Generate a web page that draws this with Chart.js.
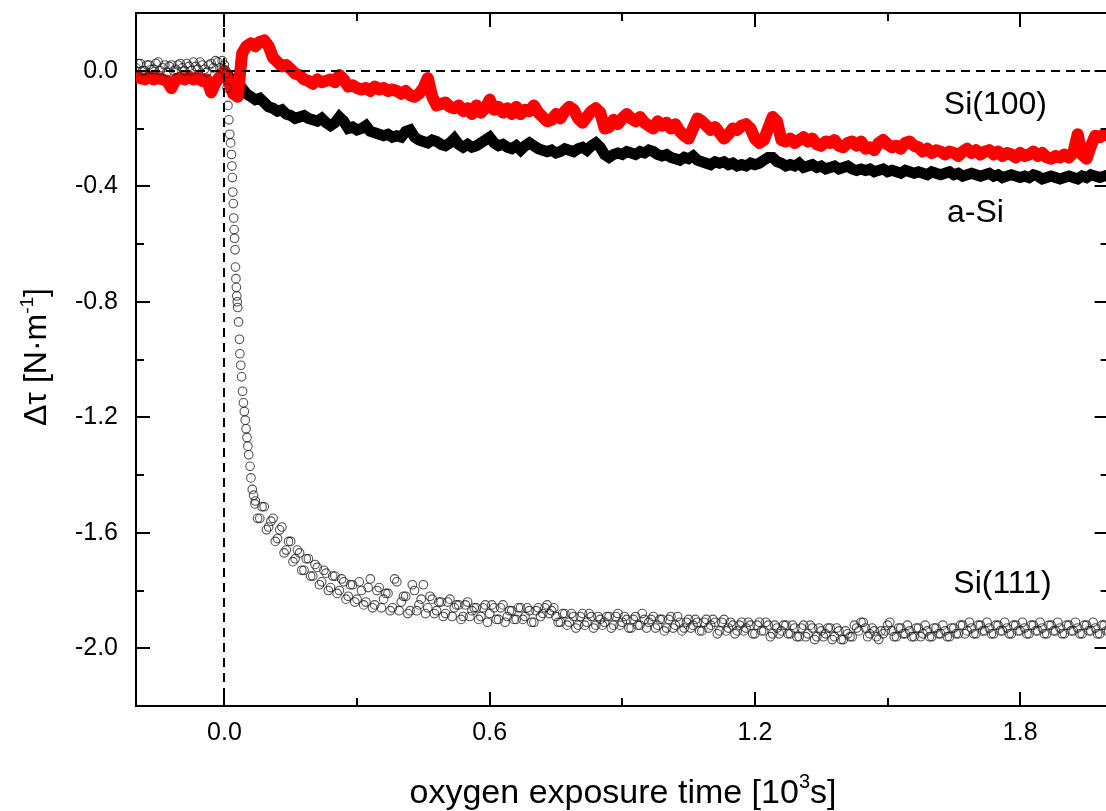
<!DOCTYPE html>
<html><head><meta charset="utf-8">
<script src="https://cdn.jsdelivr.net/npm/chart.js@4.4.0/dist/chart.umd.min.js"></script>
<style>
html,body{margin:0;padding:0;background:#fff;overflow:hidden;width:1106px;height:811px}
#wrap{position:absolute;left:0;top:0;width:1114px;height:811px}
</style>
</head><body><div id="wrap"><canvas id="c" width="1114" height="811"></canvas></div>
<script>
// ---------- DATA (time in 10^3 s, Δτ in N·m^-1) ----------
const lineTimeStart = -0.2, lineTimeStep = 0.01;   // sampling of the Si(100) and a-Si traces

const si100 = [
 -0.02,-0.025,-0.03,-0.02,-0.03,-0.025,-0.03,-0.035,-0.06,-0.03,
 -0.025,-0.03,-0.02,-0.03,-0.025,-0.035,-0.03,-0.075,-0.04,-0.02,
 0.0,-0.04,-0.08,-0.09,0.06,0.085,0.095,0.085,0.1,0.105,
 0.085,0.045,0.03,0.015,0.02,0.005,-0.01,-0.015,-0.03,-0.035,
 -0.045,-0.03,-0.04,-0.035,-0.03,-0.04,-0.015,-0.03,-0.055,-0.05,
 -0.06,-0.065,-0.06,-0.07,-0.055,-0.065,-0.06,-0.07,-0.065,-0.07,
 -0.08,-0.07,-0.085,-0.09,-0.08,-0.06,-0.025,-0.09,-0.12,-0.115,
 -0.11,-0.125,-0.13,-0.12,-0.14,
 -0.13,-0.15,-0.12,-0.145,-0.13,-0.10,-0.135,-0.125,-0.145,-0.13,
 -0.15,-0.125,-0.15,-0.135,-0.14,-0.12,-0.145,-0.16,-0.175,-0.17,
 -0.15,-0.165,-0.14,-0.125,-0.135,-0.165,-0.18,-0.16,-0.14,-0.13,
 -0.145,-0.2,-0.195,-0.17,-0.185,-0.165,-0.15,-0.165,-0.175,-0.16,
 -0.18,-0.19,-0.2,-0.175,-0.19,-0.18,-0.2,-0.185,-0.21,-0.225,
 -0.235,-0.2,-0.165,-0.175,-0.19,-0.205,-0.195,-0.215,-0.235,-0.22,
 -0.2,-0.205,-0.19,-0.185,-0.2,-0.235,-0.25,-0.24,-0.2,-0.16,
 -0.175,-0.24,-0.245,-0.235,-0.25,-0.24,-0.23,-0.245,-0.235,-0.255,
 -0.26,-0.245,-0.25,-0.24,-0.26,-0.265,-0.25,-0.245,-0.26,-0.245,
 -0.27,-0.265,-0.275,-0.25,-0.24,-0.255,-0.265,-0.26,-0.27,-0.25,
 -0.245,-0.26,-0.265,-0.28,-0.27,-0.285,-0.275,-0.28,-0.29,-0.28,
 -0.285,-0.295,-0.28,-0.27,-0.285,-0.275,-0.29,-0.28,-0.275,-0.29,
 -0.28,-0.295,-0.285,-0.29,-0.3,-0.285,-0.295,-0.29,-0.28,-0.295,
 -0.285,-0.3,-0.305,-0.295,-0.3,-0.29,-0.3,-0.285,-0.22,-0.29,
 -0.305,-0.26,-0.225,-0.23,-0.22,-0.225
];

const aSi = [
 null,null,null,null,null,null,null,null,null,null,
 null,null,null,null,null,null,null,null,null,null,
 0.0,-0.02,-0.05,-0.065,-0.06,-0.08,-0.09,-0.1,-0.095,-0.11,
 -0.125,-0.13,-0.14,-0.135,-0.15,-0.155,-0.165,-0.16,-0.155,-0.165,
 -0.17,-0.175,-0.165,-0.18,-0.19,-0.18,-0.16,-0.175,-0.2,-0.195,
 -0.205,-0.2,-0.19,-0.21,-0.215,-0.22,-0.225,-0.22,-0.23,-0.225,
 -0.23,-0.21,-0.205,-0.23,-0.24,-0.245,-0.25,-0.24,-0.245,-0.255,
 -0.26,-0.25,-0.235,-0.255,-0.265,-0.255,-0.265,-0.26,-0.25,-0.24,
 -0.23,-0.25,-0.26,-0.255,-0.265,-0.27,-0.26,-0.275,-0.26,-0.25,
 -0.26,-0.27,-0.275,-0.28,-0.275,-0.285,-0.28,-0.27,-0.275,-0.28,
 -0.27,-0.265,-0.275,-0.26,-0.25,-0.265,-0.29,-0.3,-0.29,-0.285,
 -0.29,-0.28,-0.285,-0.29,-0.28,-0.285,-0.275,-0.28,-0.29,-0.295,
 -0.29,-0.3,-0.305,-0.31,-0.3,-0.305,-0.295,-0.31,-0.315,-0.32,
 -0.325,-0.315,-0.32,-0.315,-0.325,-0.32,-0.33,-0.325,-0.33,-0.32,
 -0.325,-0.32,-0.31,-0.3,-0.3,-0.315,-0.32,-0.33,-0.325,-0.33,
 -0.32,-0.335,-0.33,-0.325,-0.335,-0.33,-0.34,-0.335,-0.33,-0.34,
 -0.335,-0.33,-0.34,-0.345,-0.34,-0.345,-0.34,-0.35,-0.345,-0.34,
 -0.35,-0.345,-0.35,-0.355,-0.345,-0.35,-0.355,-0.35,-0.355,-0.36,
 -0.35,-0.355,-0.36,-0.355,-0.35,-0.36,-0.355,-0.365,-0.36,-0.355,
 -0.36,-0.365,-0.36,-0.355,-0.365,-0.36,-0.37,-0.365,-0.36,-0.365,
 -0.37,-0.365,-0.37,-0.36,-0.365,-0.375,-0.37,-0.365,-0.37,-0.375,
 -0.37,-0.365,-0.37,-0.375,-0.365,-0.37,-0.36,-0.365,-0.37,-0.365,
 -0.36
];

// Si(111): before exposure, two interleaved readings of the band (step 0.01, offset 0.005)
const si111PreStart = -0.2, si111PreStep = 0.01;
const si111Pre = [0.01,0.025,0.0,0.02,0.005,0.03,0.01,-0.005,0.02,0.005,0.025,0.0,0.015,0.03,0.005,0.02,-0.005,0.025,0.035,0.01,0.02];
const si111PreMidStart = -0.195;
const si111PreMid = [0.025,0.0,0.02,0.005,0.025,0.0,0.02,0.015,0.0,0.02,0.01,0.025,0.0,0.015,0.03,0.005,0.02,0.01,0.03,0.035];

// Si(111): fast drop right after exposure starts
const si111DropTime = [0.003,0.006,0.008,0.010,0.012,0.014,0.016,0.017,0.018,0.019,0.020,0.021,0.022,0.023,0.024,0.025,0.026,0.027,0.028,0.029,0.030,0.032,0.034,0.035,0.037,0.039,0.041,0.043,0.045,0.047,0.049,0.051,0.053,0.055,0.058,0.060,0.063,0.066,0.069];
const si111DropValue = [-0.01,-0.06,-0.12,-0.17,-0.22,-0.25,-0.29,-0.33,-0.37,-0.42,-0.46,-0.51,-0.55,-0.58,-0.62,-0.68,-0.72,-0.75,-0.78,-0.80,-0.82,-0.87,-0.93,-0.98,-1.02,-1.06,-1.11,-1.15,-1.18,-1.21,-1.24,-1.27,-1.30,-1.33,-1.37,-1.41,-1.45,-1.47,-1.50];

// Si(111): saturation, two interleaved readings of the band (step 0.01, offset 0.005)
const si111PostStart = 0.07, si111PostStep = 0.01;
const si111Post = [
 -1.49,-1.55,-1.51,-1.58,-1.55,-1.62,-1.58,-1.66,-1.63,-1.69,
 -1.67,-1.73,-1.69,-1.75,-1.72,-1.77,-1.74,-1.79,-1.75,-1.80,
 -1.77,-1.82,-1.78,-1.83,-1.80,-1.84,-1.76,-1.85,-1.79,-1.83,
 -1.81,-1.86,-1.77,-1.84,-1.82,-1.87,-1.80,-1.85,-1.78,-1.86,
 -1.83,-1.87,-1.84,-1.88,-1.83,-1.86,-1.85,-1.89,-1.84,-1.87,
 -1.86,-1.89,-1.85,-1.88,-1.86,-1.90,-1.85,-1.89,-1.87,-1.90,
 -1.86,-1.89,-1.87,-1.91,-1.86,-1.88,-1.85,-1.87,-1.89,-1.91,
 -1.88,-1.91,-1.89,-1.92,-1.88,-1.91,-1.89,-1.92,-1.90,-1.91,
 -1.89,-1.92,-1.88,-1.91,-1.90,-1.93,-1.89,-1.92,-1.90,-1.91,
 -1.89,-1.92,-1.90,-1.93,-1.89,-1.92,-1.91,-1.93,-1.90,-1.92,
 -1.91,-1.94,-1.90,-1.92,-1.91,-1.94,-1.90,-1.93,-1.92,-1.94,
 -1.91,-1.93,-1.92,-1.95,-1.91,-1.94,-1.92,-1.95,-1.93,-1.94,
 -1.92,-1.95,-1.93,-1.96,-1.92,-1.95,-1.93,-1.96,-1.94,-1.95,
 -1.93,-1.96,-1.94,-1.97,-1.95,-1.96,-1.93,-1.91,-1.93,-1.95,
 -1.94,-1.97,-1.95,-1.92,-1.94,-1.96,-1.93,-1.95,-1.94,-1.96,
 -1.93,-1.95,-1.94,-1.96,-1.93,-1.95,-1.94,-1.96,-1.93,-1.95,
 -1.92,-1.94,-1.93,-1.95,-1.92,-1.94,-1.93,-1.95,-1.92,-1.94,
 -1.93,-1.95,-1.92,-1.94,-1.93,-1.95,-1.92,-1.94,-1.93,-1.95,
 -1.92,-1.94,-1.93,-1.95,-1.92,-1.94,-1.93,-1.95,-1.92,-1.94,
 -1.93,-1.95,-1.92,-1.94
];
const si111PostMidStart = 0.075;
const si111PostMid = [
 -1.55,-1.51,-1.59,-1.56,-1.63,-1.59,-1.67,-1.63,-1.70,-1.66,
 -1.73,-1.69,-1.75,-1.71,-1.78,-1.73,-1.80,-1.75,-1.81,-1.76,
 -1.83,-1.78,-1.84,-1.77,-1.85,-1.79,-1.86,-1.80,-1.86,-1.81,
 -1.87,-1.76,-1.87,-1.82,-1.88,-1.78,-1.87,-1.83,-1.88,-1.82,
 -1.88,-1.84,-1.89,-1.84,-1.89,-1.85,-1.90,-1.85,-1.89,-1.86,
 -1.90,-1.86,-1.91,-1.85,-1.90,-1.86,-1.91,-1.87,-1.90,-1.86,
 -1.90,-1.86,-1.91,-1.87,-1.89,-1.86,-1.88,-1.86,-1.91,-1.88,
 -1.92,-1.88,-1.93,-1.89,-1.92,-1.88,-1.93,-1.89,-1.92,-1.89,
 -1.93,-1.89,-1.92,-1.89,-1.93,-1.90,-1.92,-1.88,-1.93,-1.90,
 -1.93,-1.90,-1.94,-1.90,-1.93,-1.89,-1.94,-1.91,-1.93,-1.90,
 -1.94,-1.91,-1.93,-1.90,-1.95,-1.91,-1.94,-1.91,-1.95,-1.92,
 -1.94,-1.91,-1.95,-1.92,-1.94,-1.91,-1.96,-1.92,-1.95,-1.92,
 -1.95,-1.92,-1.96,-1.93,-1.96,-1.92,-1.97,-1.93,-1.96,-1.93,
 -1.97,-1.93,-1.97,-1.94,-1.96,-1.92,-1.94,-1.91,-1.96,-1.93,
 -1.96,-1.94,-1.94,-1.91,-1.96,-1.93,-1.95,-1.92,-1.96,-1.93,
 -1.96,-1.92,-1.96,-1.93,-1.95,-1.92,-1.96,-1.93,-1.95,-1.92,
 -1.95,-1.91,-1.95,-1.92,-1.94,-1.91,-1.95,-1.92,-1.94,-1.91,
 -1.95,-1.92,-1.94,-1.91,-1.95,-1.92,-1.94,-1.91,-1.95,-1.92,
 -1.94,-1.91,-1.95,-1.92,-1.94,-1.91,-1.95,-1.92,-1.94,-1.91,
 -1.95,-1.92,-1.94
];

const xTickValues = [0.0, 0.6, 1.2, 1.8];
const xMinorValues = [0.3, 0.9, 1.5];
const yTickValues = [-2.0, -1.6, -1.2, -0.8, -0.4, 0.0];
const yMinorValues = [0.2, -0.2, -0.6, -1.0, -1.4, -1.8, -2.2];

const labelText = ['Si(100)', 'a-Si', 'Si(111)'];
const labelTime = [1.744, 1.699, 1.76];
const labelValue = [-0.12, -0.492, -1.779];

// ---------- build point lists ----------
const gridPoints = (vals, start, step) => vals.map((v, i) => ({x: +(start + i * step).toFixed(4), y: v}));
const si100Points = gridPoints(si100, lineTimeStart, lineTimeStep);
const aSiPoints = gridPoints(aSi, lineTimeStart, lineTimeStep);
const si111Points = [
  ...gridPoints(si111Pre, si111PreStart, si111PreStep),
  ...gridPoints(si111PreMid, si111PreMidStart, si111PreStep),
  ...si111DropTime.map((t, i) => ({x: t, y: si111DropValue[i]})),
  ...gridPoints(si111Post, si111PostStart, si111PostStep),
  ...gridPoints(si111PostMid, si111PostMidStart, si111PostStep)
];

const FAM = "'Liberation Sans', Arial, Helvetica, sans-serif";

function drawParts(ctx, parts, cx, baseY) {
  let total = 0;
  parts.forEach(p => { ctx.font = p.size + 'px ' + FAM; p.w = ctx.measureText(p.text).width; total += p.w; });
  let xx = cx - total / 2;
  ctx.textAlign = 'left'; ctx.textBaseline = 'alphabetic';
  parts.forEach(p => { ctx.font = p.size + 'px ' + FAM; ctx.fillText(p.text, xx, baseY + (p.dy || 0)); xx += p.w; });
}

const framePlugin = {
  id: 'frame',
  afterDatasetsDraw(chart) {
    const {ctx, chartArea: a, scales: {x, y}} = chart;
    ctx.save();
    ctx.beginPath(); ctx.rect(a.left, a.top, a.right - a.left, a.bottom - a.top); ctx.clip();
    ctx.setLineDash([9, 6]); ctx.lineWidth = 2; ctx.strokeStyle = '#000';
    const y0 = Math.round(y.getPixelForValue(0)), x0 = Math.round(x.getPixelForValue(0));
    ctx.beginPath(); ctx.moveTo(a.left, y0); ctx.lineTo(a.right, y0); ctx.stroke();
    ctx.beginPath(); ctx.moveTo(x0, a.top); ctx.lineTo(x0, a.bottom); ctx.stroke();
    ctx.restore();
  },
  afterDraw(chart) {
    const {ctx, chartArea: a, scales: {x, y}} = chart;
    ctx.save();
    ctx.strokeStyle = '#000'; ctx.lineWidth = 2; ctx.setLineDash([]);
    ctx.beginPath(); ctx.moveTo(a.left, a.top); ctx.lineTo(a.right, a.top); ctx.lineTo(a.right, a.bottom); ctx.stroke();
    const tick = (vals, len) => {
      vals.forEach(v => {
        const px = Math.round(x.getPixelForValue(v));
        if (px < a.left || px > a.right) return;
        ctx.beginPath(); ctx.moveTo(px, a.bottom); ctx.lineTo(px, a.bottom - len);
        ctx.moveTo(px, a.top); ctx.lineTo(px, a.top + len); ctx.stroke();
      });
    };
    const ytick = (vals, len) => {
      vals.forEach(v => {
        const py = Math.round(y.getPixelForValue(v));
        if (py < a.top || py > a.bottom) return;
        ctx.beginPath(); ctx.moveTo(a.left, py); ctx.lineTo(a.left + len, py);
        ctx.moveTo(a.right, py); ctx.lineTo(a.right - len, py); ctx.stroke();
      });
    };
    tick(xTickValues, 14); tick(xMinorValues, 8);
    ytick(yTickValues, 14); ytick(yMinorValues, 8);
    ctx.fillStyle = '#000'; ctx.font = '32px ' + FAM; ctx.textAlign = 'center'; ctx.textBaseline = 'middle';
    labelText.forEach((t, i) => ctx.fillText(t, x.getPixelForValue(labelTime[i]), y.getPixelForValue(labelValue[i])));
    drawParts(ctx, [{text: 'oxygen exposure time [10', size: 34}, {text: '3', size: 20, dy: -15}, {text: 's]', size: 34}], 623, 803);
    ctx.translate(46, 357); ctx.rotate(-Math.PI / 2);
    drawParts(ctx, [{text: 'Δτ [N·m', size: 32}, {text: '-1', size: 19, dy: -13}, {text: ']', size: 32}], 0, 0);
    ctx.restore();
  }
};

new Chart(document.getElementById('c'), {
  type: 'line',
  data: {
    datasets: [
      {label: 'Si(111)', data: si111Points, showLine: false, pointStyle: 'circle', pointRadius: 4.3,
       pointBorderWidth: 1.1, pointBorderColor: 'rgba(25,25,25,0.75)', pointBackgroundColor: 'rgba(255,255,255,0)', order: 0},
      {label: 'Si(100)', data: si100Points, borderColor: '#ff0000', borderWidth: 12, pointRadius: 0,
       borderJoinStyle: 'round', borderCapStyle: 'round', tension: 0, order: 1},
      {label: 'a-Si', data: aSiPoints, borderColor: '#000000', borderWidth: 11, pointRadius: 0,
       borderJoinStyle: 'miter', tension: 0, spanGaps: false, order: 2}
    ]
  },
  options: {
    responsive: false, animation: false, devicePixelRatio: 1,
    layout: {padding: {top: 13, right: 2, left: 0, bottom: 0}},
    plugins: {legend: {display: false}, tooltip: {enabled: false}},
    scales: {
      x: {
        type: 'linear', min: -0.2, max: 2.0,
        afterBuildTicks: s => { s.ticks = xTickValues.map(v => ({value: v})); },
        afterFit: s => { s.height = 105; s.paddingLeft = 0; s.paddingRight = 0; },
        grid: {display: false, drawTicks: false},
        border: {display: true, color: '#000', width: 2},
        ticks: {padding: 12, color: '#000', font: {family: FAM, size: 25}, maxRotation: 0, autoSkip: false,
                callback: v => Number(v).toFixed(1)}
      },
      y: {
        type: 'linear', min: -2.2, max: 0.2,
        afterBuildTicks: s => { s.ticks = yTickValues.map(v => ({value: v})); },
        afterFit: s => { s.width = 136; s.paddingTop = 0; s.paddingBottom = 0; },
        grid: {display: false, drawTicks: false},
        border: {display: true, color: '#000', width: 2},
        ticks: {padding: 18, color: '#000', font: {family: FAM, size: 25}, autoSkip: false,
                callback: v => Number(v).toFixed(1)}
      }
    }
  },
  plugins: [framePlugin]
});
</script>
</body></html>
